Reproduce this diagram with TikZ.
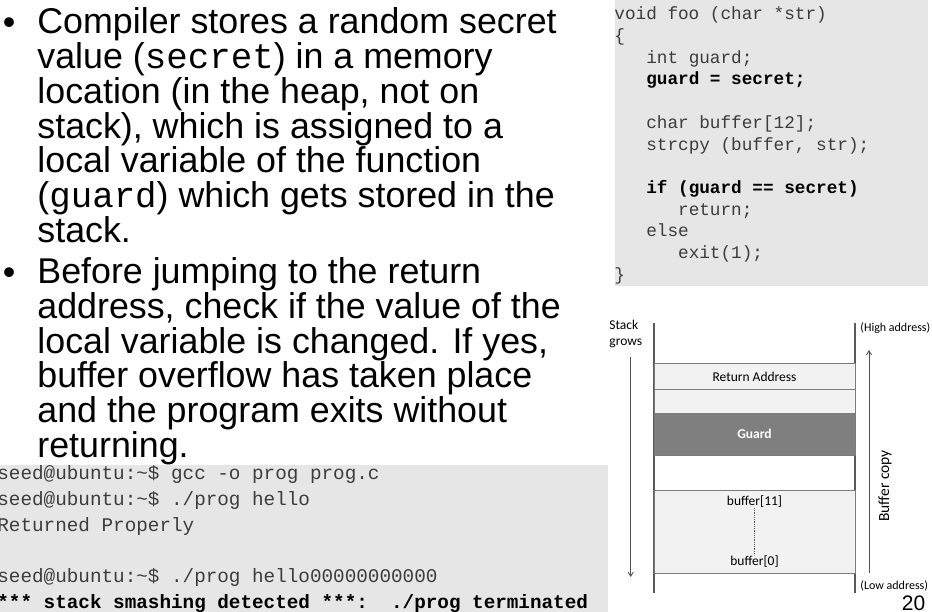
\documentclass[tikz,border=0pt]{standalone}
\usepackage{fontspec}
\setmainfont{Liberation Sans}
\setmonofont{Liberation Mono}
\newfontfamily\calibfont{Carlito}
\usetikzlibrary{positioning, arrows.meta}
\definecolor{codebg}{HTML}{E6E6E6}
\definecolor{codefg}{HTML}{3C3C3C}
\definecolor{rowfill}{HTML}{F2F2F2}
\definecolor{guardfill}{HTML}{7F7F7F}
\definecolor{wallgray}{HTML}{5A5A5A}
\tikzset{
  every picture/.style={line width=0.8pt},
  >={Straight Barb[length=4pt,width=5pt]},
  slidetext/.style={anchor=north west, inner sep=0pt, align=left, font=\fontsize{35.8}{34.8}\selectfont},
  bulletdot/.style={anchor=base west, inner sep=0pt, font=\fontsize{35.8}{34.8}\selectfont},
  codetext/.style={anchor=north west, inner sep=0pt, align=left, text=codefg, font=\ttfamily\fontsize{17.7}{21.7}\selectfont},
  termtext/.style={anchor=north west, inner sep=0pt, align=left, text=codefg, font=\ttfamily\fontsize{19.3}{25.8}\selectfont},
  cell/.style={draw=wallgray!80, line width=1pt, fill=rowfill, minimum width=201pt, inner sep=0pt, outer sep=0pt, font=\calibfont\fontsize{13.5}{16}\selectfont},
  stackfont/.style={inner sep=0pt, font=\calibfont\fontsize{13.5}{16}\selectfont},
  desc/.style={inner sep=0pt, font=\calibfont\fontsize{12}{14}\selectfont}
}
\newcommand{\hot}[1]{{\bfseries\color{black}#1}}
\begin{document}
\begin{tikzpicture}[x=1pt, y=-1pt, tips=proper]
    \tikzset{
      wall/.style={draw=wallgray, line width=1.3pt},
      flow/.style={draw=wallgray!90!black, line width=0.9pt, ->}
    }
    \useasboundingbox (0,0) rectangle (932,612);

    \node[bulletdot] (dot1) at (2.5,34.5) {\textbullet};
    \node[slidetext] (intro) at (37,5.3) {\rule{0pt}{28pt}Compiler stores a random secret\\
      value (\texttt{secret}) in a memory\\
      location (in the heap, not on\\
      stack), which is assigned to a\\
      local variable of the function\\
      (\texttt{guard}) which gets stored in the\\
      stack.};
    \node[bulletdot] (dot2) at (2.5,284.2) {\textbullet};
    \node[slidetext] (check) at (37,255) {\rule{0pt}{28pt}Before jumping to the return\\
      address, check if the value of the\\
      local variable is changed. If yes,\\
      buffer overflow has taken place\\
      and the program exits without\\
      returning.};

    \fill[codebg] (615,0) rectangle (928,286);
    \node[codetext] (code) at (614,4.5) {\rule{0pt}{15pt}void foo (char *str)\\
      \{\\
      \ \ \ int guard;\\
      \ \ \ \hot{guard = secret;}\\
      \\
      \ \ \ char buffer[12];\\
      \ \ \ strcpy (buffer, str);\\
      \\
      \ \ \ \hot{if (guard == secret)}\\
      \ \ \ \ \ \ return;\\
      \ \ \ else\\
      \ \ \ \ \ \ exit(1);\\
      \}};

    \fill[codebg] (0,465) rectangle (608,612);
    \node[termtext] (term) at (-3,463) {\rule{0pt}{16pt}seed@ubuntu:\textasciitilde\$ gcc -o prog prog.c\\
      seed@ubuntu:\textasciitilde\$ ./prog hello\\
      Returned Properly\\
      \\
      seed@ubuntu:\textasciitilde\$ ./prog hello00000000000\\
      \hot{*** stack smashing detected ***:\ \ ./prog terminated}};

    \coordinate (wallNW) at (654,323);
    \coordinate (wallSW) at (654,593);
    \coordinate (wallNE) at (855,323);
    \coordinate (wallSE) at (855,593);
    \draw[wall] (wallNW) -- (wallSW);
    \draw[wall] (wallNE) -- (wallSE);

    \node[cell, minimum height=25pt] (ret) at (754.5,376.5) {Return Address};
    \node[cell, minimum height=24pt, below=0pt of ret] (pad) {};
    \node[cell, fill=guardfill, text=white, minimum height=42pt, below=0pt of pad] (guard) {\bfseries Guard};
    \node[cell, minimum height=83pt, below=35pt of guard] (buf) {};
    \node[stackfont, below=5.7pt of buf.north] (b11) {buffer[11]};
    \node[stackfont, above=5.7pt of buf.south] (b0) {buffer[0]};
    \draw[densely dotted, wallgray] (b11) -- (b0);

    \node[stackfont, align=left, anchor=north west] (grows) at (609,319.5) {Stack\\grows};
    \coordinate (growsTop) at (630.7,357);
    \coordinate (growsEnd) at (630.7,577);
    \draw[flow] (growsTop) -- (growsEnd);

    \node[desc, anchor=base west] (high) at (860,331.5) {(High address)};
    \node[desc, anchor=base west] (low) at (860,589.5) {(Low address)};
    \coordinate (copyStart) at (869,573);
    \coordinate (copyEnd) at (869,350);
    \draw[flow] (copyStart) -- (copyEnd);
    \node[stackfont, font=\calibfont\fontsize{15.5}{18}\selectfont, rotate=90] (copy) at (885,486) {Buffer copy};

    \node[anchor=base east, font=\fontsize{21}{21}\selectfont] (page) at (929,610) {20};
  \end{tikzpicture}
\end{document}
